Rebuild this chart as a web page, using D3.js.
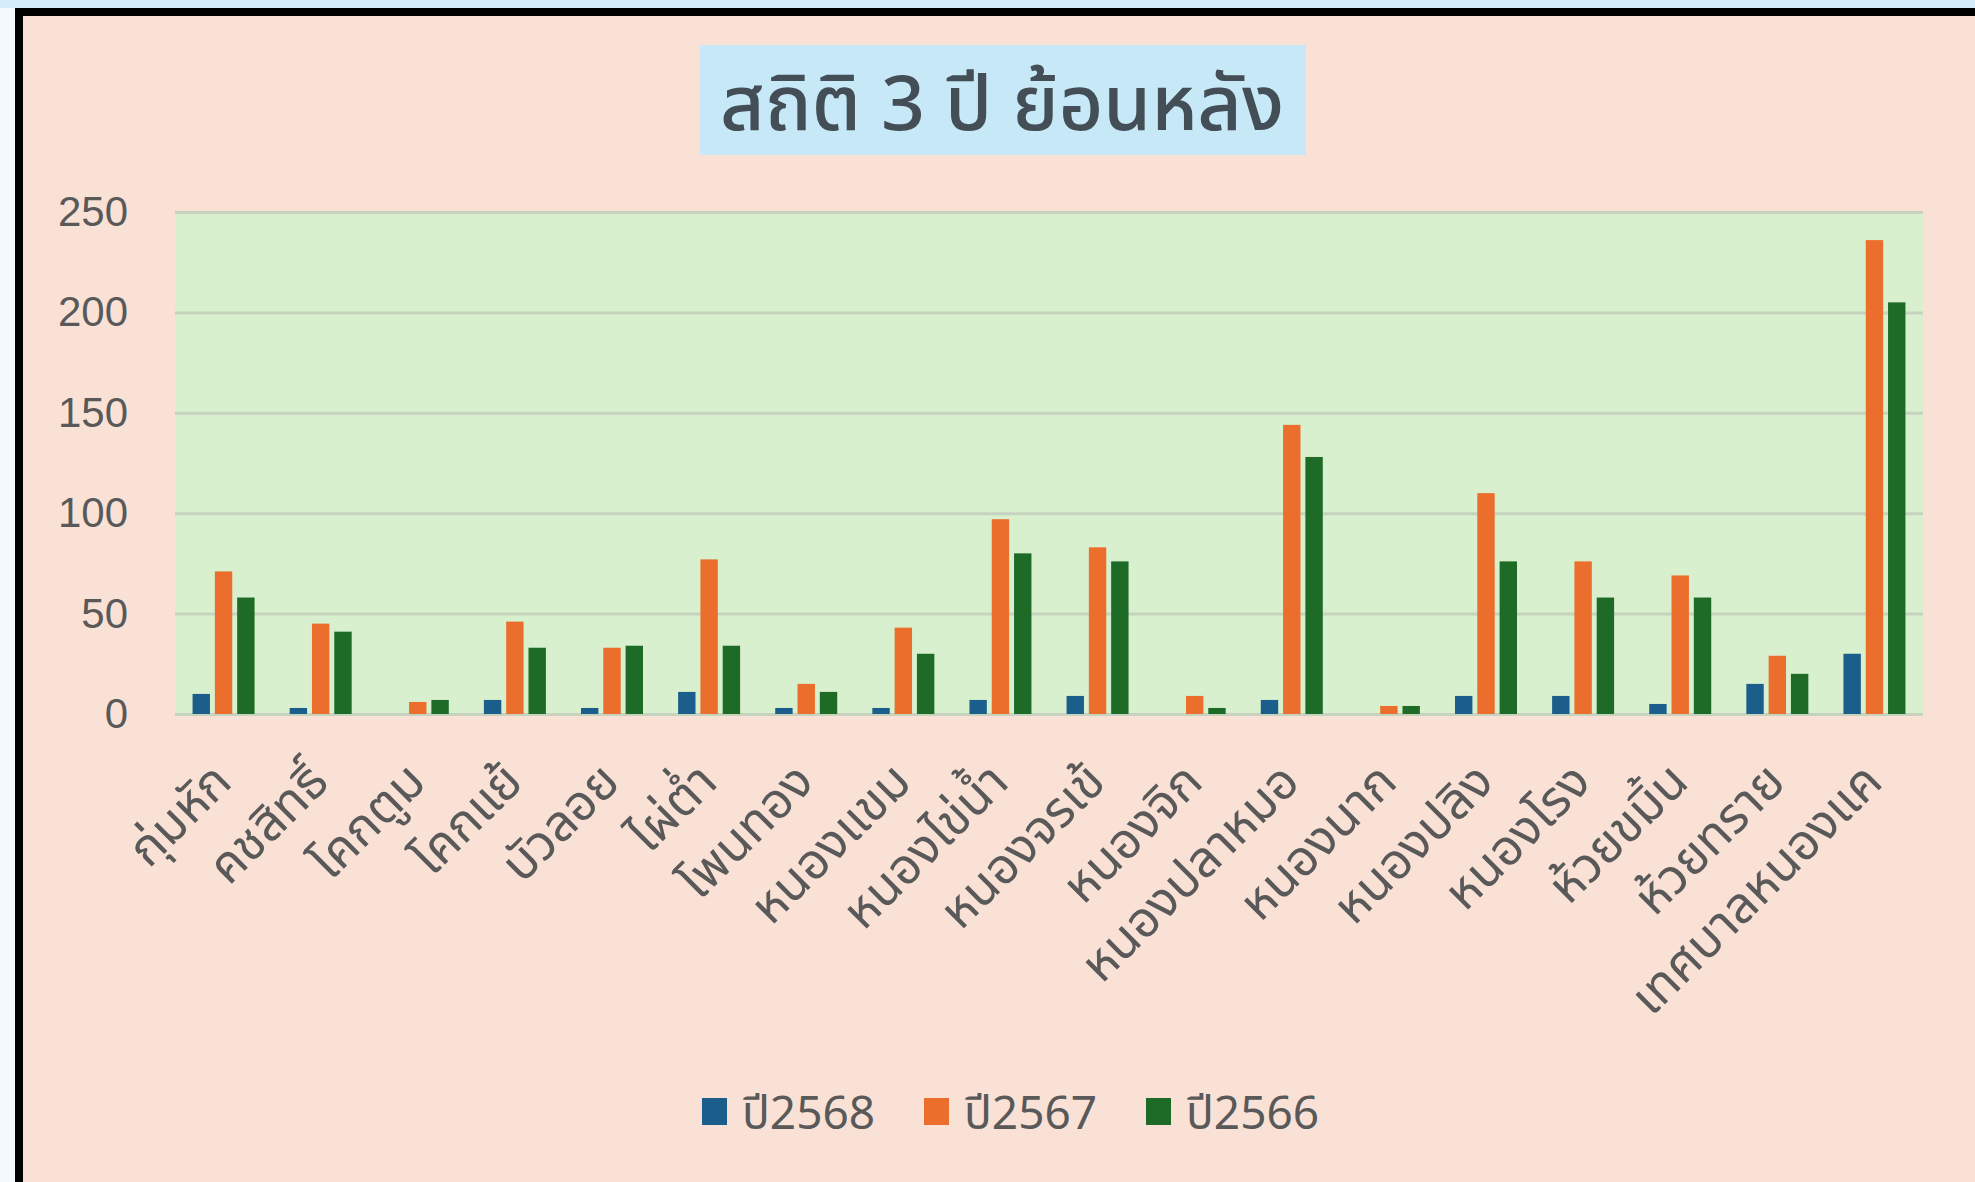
<!DOCTYPE html>
<html>
<head>
    <meta charset="utf-8">
    <script src="https://d3js.org/d3.v7.min.js" charset="utf-8"></script>
    <style>
        body { margin: 0; background: #f3f9fd; }
        text { font-family: "Noto Sans Thai", "Leelawadee UI", Tahoma, "Noto Sans", "Liberation Sans", sans-serif; }
    </style>
</head>
<body>
    <script>
        // data
        var categories = ["กุ่มหัก", "คชสิทธิ์", "โคกตูม", "โคกแย้", "บัวลอย", "ไผ่ต่ำ", "โพนทอง", "หนองแขม",
            "หนองไข่น้ำ", "หนองจรเข้", "หนองจิก", "หนองปลาหมอ", "หนองนาก", "หนองปลิง", "หนองโรง",
            "ห้วยขมิ้น", "ห้วยทราย", "เทศบาลหนองแค"];
        var series = ["ปี2568", "ปี2567", "ปี2566"];
        var y2568 = [10, 3, 0, 7, 3, 11, 3, 3, 7, 9, 0, 7, 0, 9, 9, 5, 15, 30];
        var y2567 = [71, 45, 6, 46, 33, 77, 15, 43, 97, 83, 9, 144, 4, 110, 76, 69, 29, 236];
        var y2566 = [58, 41, 7, 33, 34, 34, 11, 30, 80, 76, 3, 128, 4, 76, 58, 58, 20, 205];
        var yTicks = [0, 50, 100, 150, 200, 250];
        var colors = ["#1c5e8b", "#ec6e2c", "#1d6b27"];
        var title = "สถิติ 3 ปี ย้อนหลัง";

        var values = [y2568, y2567, y2566];
        var W = 1975, H = 1182;

        var svg = d3.select("body")
            .append("svg")
            .attr("width", W)
            .attr("height", H)
            .style("display", "block");

        // frame
        svg.append("rect").attr("x", 0).attr("y", 0).attr("width", W).attr("height", 8).attr("fill", "#d3eef9");
        svg.append("rect").attr("x", 15).attr("y", 8).attr("width", W - 15).attr("height", H - 8).attr("fill", "#000");
        svg.append("rect").attr("x", 23).attr("y", 16).attr("width", W - 23).attr("height", H - 16).attr("fill", "#fae1d6");

        // title
        svg.append("rect").attr("x", 700).attr("y", 45).attr("width", 606).attr("height", 110).attr("fill", "#c7e8f7");
        svg.append("text")
            .attr("x", 1002).attr("y", 130)
            .attr("text-anchor", "middle")
            .attr("font-size", 77)
            .attr("font-weight", 500)
            .attr("fill", "#434e57")
            .text(title);

        var pLeft = 175, pRight = 1923, pTop = 212, pBottom = 714;

        var x0 = d3.scaleBand().domain(categories).range([pLeft, pRight]);
        var x1 = d3.scaleBand().domain(series).range([-31, 31]).paddingInner(0.22);
        var y = d3.scaleLinear().domain([0, 250]).range([pBottom, pTop]);

        // plot area
        svg.append("rect")
            .attr("x", pLeft).attr("y", pTop)
            .attr("width", pRight - pLeft).attr("height", pBottom - pTop)
            .attr("fill", "#d8f0cd");

        // grid
        svg.append("g")
            .attr("transform", "translate(" + pLeft + ",0)")
            .call(d3.axisLeft(y).tickValues(yTicks).tickSize(-(pRight - pLeft)).tickFormat(""))
            .call(function (g) {
                g.select(".domain").remove();
                g.selectAll("line").attr("stroke", "#c6d3bf").attr("stroke-width", 3);
            });

        // y labels
        svg.append("g")
            .attr("transform", "translate(" + pLeft + ",0)")
            .call(d3.axisLeft(y).tickValues(yTicks).tickSize(0).tickPadding(47))
            .call(function (g) {
                g.select(".domain").remove();
                g.selectAll("text")
                    .attr("font-size", 42)
                    .attr("fill", "#595959")
                    .style("font-family", "'Liberation Sans', Arial, sans-serif");
            });

        // bars
        var groups = svg.append("g").selectAll("g")
            .data(categories)
            .enter()
            .append("g")
            .attr("transform", function (d) { return "translate(" + (x0(d) + x0.bandwidth() / 2) + ",0)"; });

        groups.selectAll("rect")
            .data(function (d, i) {
                return series.map(function (s, j) { return { s: s, v: values[j][i], c: colors[j] }; });
            })
            .enter()
            .append("rect")
            .attr("x", function (d) { return x1(d.s); })
            .attr("width", x1.bandwidth())
            .attr("y", function (d) { return y(d.v); })
            .attr("height", function (d) { return y(0) - y(d.v); })
            .attr("fill", function (d) { return d.c; });

        // x labels
        var xAxis = svg.append("g")
            .attr("transform", "translate(0," + pBottom + ")")
            .call(d3.axisBottom(x0).tickSize(0).tickPadding(0));
        xAxis.select(".domain").remove();
        xAxis.selectAll("text")
            .attr("font-size", 50)
            .attr("fill", "#595959")
            .attr("text-anchor", "end")
            .attr("dy", "0.35em")
            .attr("transform", "translate(-2,58) rotate(-45)");

        // legend
        var legend = svg.append("g").selectAll("g")
            .data(series)
            .enter()
            .append("g")
            .attr("transform", function (d, i) { return "translate(" + (702 + i * 222) + ",1098)"; });
        legend.append("rect")
            .attr("width", 25).attr("height", 27)
            .attr("fill", function (d, i) { return colors[i]; });
        legend.append("text")
            .attr("x", 40).attr("y", 31)
            .attr("font-size", 46)
            .attr("fill", "#595959")
            .text(function (d) { return d; });
    </script>
</body>
</html>
